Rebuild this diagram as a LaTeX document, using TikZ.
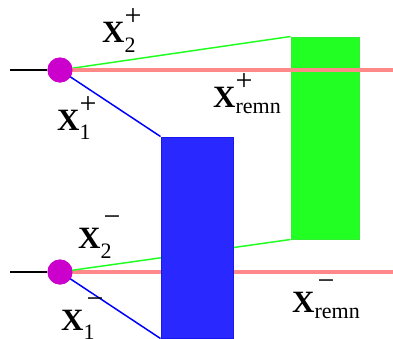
\documentclass[tikz,border=0pt]{standalone}
\usepackage{fontspec}
\setmainfont{Liberation Serif}
\definecolor{pinkl}{HTML}{FF8888}
\definecolor{gr}{HTML}{22FF22}
\definecolor{grd}{HTML}{33EE33}
\definecolor{bl}{HTML}{2828FF}
\definecolor{bld}{HTML}{1818EE}
\definecolor{mag}{HTML}{CC00CC}
\newcommand\supf{\fontsize{30}{30}\selectfont}
\newcommand\subf{\fontsize{22}{22}\selectfont}
% #1 subscript, #2 lowering of subscript
\newcommand\xplus[2]{\textbf{X}\rlap{\raisebox{17pt}{\supf +}}\raisebox{-#2}{\subf #1}}
\newcommand\xminus[2]{\textbf{X}\rlap{\hspace{3pt}\raisebox{22pt}{\supf −}}\raisebox{-#2}{\subf #1}}
\tikzset{
  vert/.style={circle,fill=mag,draw=none,minimum size=25pt,inner sep=0pt},
  greenbox/.style={rectangle,fill=gr,draw=grd,line width=1pt,minimum width=68pt,minimum height=202pt,inner sep=0pt},
  bluebox/.style={rectangle,fill=bl,draw=bld,line width=1pt,minimum width=72pt,minimum height=201pt,inner sep=0pt},
  pinkline/.style={pinkl,line width=3.5pt},
  greenline/.style={gr,line width=1.5pt},
  blueline/.style={blue,line width=1.5pt},
  blackline/.style={black,line width=2pt},
  lab/.style={anchor=base west,inner sep=0pt,font=\fontsize{31}{31}\selectfont}
}
\begin{document}
\begin{tikzpicture}[x=1pt,y=-1pt]
\useasboundingbox (0,0) rectangle (393,338);
\coordinate (p1end) at (393,70);
\coordinate (p2end) at (393,272);
\coordinate (b1) at (10,70);
\coordinate (b2) at (10,272);
\node[vert] (v1) at (60,70) {};
\node[vert] (v2) at (60,272) {};
\node[greenbox] (g) at (325,138) {};
\node[bluebox] (bx) at (197,237.5) {};
\draw[pinkline] (v2.center) -- (p2end);
\draw[greenline] (v2.center) -- (g.south west);
\draw[blueline] (v2.center) -- (bx.south west);
\draw[blueline] (v1.center) -- (bx.north west);
\node[greenbox] at (g) {};
\draw[greenline] (v1.center) -- (g.north west);
\draw[pinkline] (v1.center) -- (p1end);
\node[bluebox] at (bx) {};
\draw[blackline] (b1) -- (v1.west);
\draw[blackline] (b2) -- (v2.west);
\node[vert] at (v1) {};
\node[vert] at (v2) {};
\node[lab] (l2p) at (102,42) {\xplus{2}{10pt}};
\node[lab] (l1p) at (57,130) {\xplus{1}{9pt}};
\node[lab] (lrp) at (213,107) {\xplus{remn}{6pt}};
\node[lab] (l2m) at (78,248) {\xminus{2}{10pt}};
\node[lab] (l1m) at (61,330) {\xminus{1}{9pt}};
\node[lab] (lrm) at (292,312) {\xminus{remn}{6pt}};
\end{tikzpicture}
\end{document}
